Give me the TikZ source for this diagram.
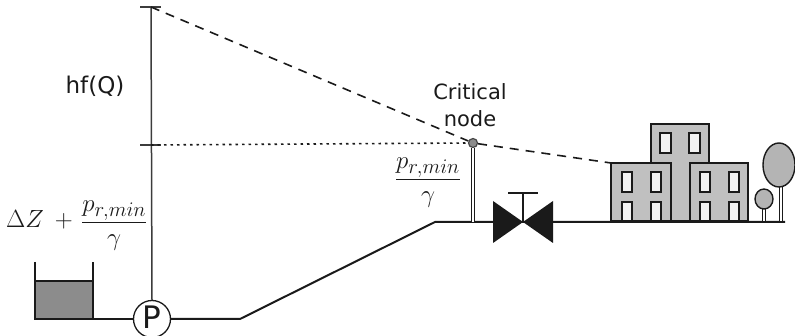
\documentclass[tikz,border=0pt]{standalone}
\usepackage{fontspec}
\setmainfont{DejaVu Sans}
\usetikzlibrary{calc}
\definecolor{ink}{HTML}{1A1A1A}
\definecolor{water}{HTML}{8C8C8C}
\definecolor{wall}{HTML}{C0C0C0}
\definecolor{pane}{HTML}{F2F2F2}
\definecolor{crown}{HTML}{B4B4B4}
\begin{document}
\begin{tikzpicture}[x=1pt,y=-1pt,
  pipe/.style={line width=2pt,ink},
  scale line/.style={line width=1.5pt,ink!85},
  tankline/.style={line width=2.4pt,ink},
  house/.style={line width=2.3pt,draw=ink,fill=wall},
  window/.style={line width=1.8pt,draw=ink,fill=pane},
  trunk/.style={double=white,double distance=2pt,line width=1.2pt,draw=ink},
  tree/.style={line width=1.4pt,draw=ink,fill=crown},
  headline/.style={line width=1.6pt,ink,dash pattern=on 9pt off 7pt},
  levelline/.style={line width=1.6pt,ink,dash pattern=on 2.5pt off 4pt},
  label/.style={inner sep=0pt,text=ink}]
\useasboundingbox (0,0) rectangle (795,336);

% reservoir
\fill[water] (35,281) rectangle (93,319);
\draw[tankline] (35,262) -- (35,319) -- (93,319) -- (93,262);
\draw[tankline] (35,281) -- (93,281);

% pump
\node[circle,draw=ink,line width=1.3pt,fill=white,minimum size=37pt,inner sep=0pt]
  (pump) at (152,319) {};
\node[label,anchor=center] (pumplabel) at (152,317) {\fontsize{31}{31}\selectfont P};

% head scale
\coordinate (top) at (151,7);
\coordinate (mid) at (151,145);
\draw[scale line] (pump.north) -- (top);
\draw[scale line] (140,7) -- (161,7);
\draw[scale line] (140,145) -- (161,145);

% pipeline profile
\coordinate (tank out) at (93,319);
\coordinate (foot) at (240,319);
\coordinate (crest) at (435,222);
\coordinate (pipe end) at (785,222);
\draw[pipe] (tank out) -- (pump.west);
\draw[pipe] (pump.east) -- (foot) -- (crest) -- (pipe end);

% critical node riser
\node[circle,draw=ink!80,line width=1.2pt,fill=water,minimum size=9pt,inner sep=0pt]
  (crit) at (473,143) {};
\coordinate (riser base) at (473,222);
\draw[trunk] (riser base) -- (crit.south);

% valve
\coordinate (valve) at (523,222);
\fill[ink] (493,201) -- (valve) -- (553,201) -- (553,243) -- (valve) -- (493,243) -- cycle;
\draw[line width=1.5pt,ink] (valve) -- (523,193);
\draw[line width=1.5pt,ink] (508,193) -- (538,193);

% buildings
\draw[house] (651,124) rectangle (709,221);
\draw[window] (660,133) rectangle (671,153);
\draw[window] (689,133) rectangle (700,153);
\draw[house] (611,163) rectangle (671,221);
\draw[house] (690,163) rectangle (748,221);
\foreach \x in {622,651,700,729}{
  \draw[window] (\x,172) rectangle (\x+10,192);
  \draw[window] (\x,202) rectangle (\x+10,221);
}
\coordinate (town) at (611,163);

% trees
\draw[trunk] (764,221) -- (764,205);
\draw[tree] (764,199) ellipse [x radius=9pt,y radius=10pt];
\draw[trunk,double distance=2.5pt] (781,221) -- (781,184);
\draw[tree] (779,165) ellipse [x radius=16pt,y radius=22pt];
\draw[pipe] (735,222) -- (pipe end);

% hydraulic grade lines
\draw[headline] (top) -- (crit) -- (town);
\draw[levelline] (mid) -- (crit.west);

% labels
\node[label,anchor=base] (hf) at (95,94) {\fontsize{23}{23}\selectfont hf(Q)};
\node[label,align=center,anchor=center,font=\fontsize{21}{27}\selectfont]
  (critlabel) at (470,105) {Critical\\node};
\node[label,anchor=base west] (total) at (6,228)
  {\fontsize{28}{28}\selectfont$\displaystyle \Delta Z\mkern4mu+\mkern2mu\frac{p_{r,min}}{\gamma}$};
\node[label,anchor=base] (press) at (428,185)
  {\fontsize{28}{28}\selectfont$\displaystyle \frac{p_{r,min}}{\gamma}$};
\end{tikzpicture}
\end{document}
